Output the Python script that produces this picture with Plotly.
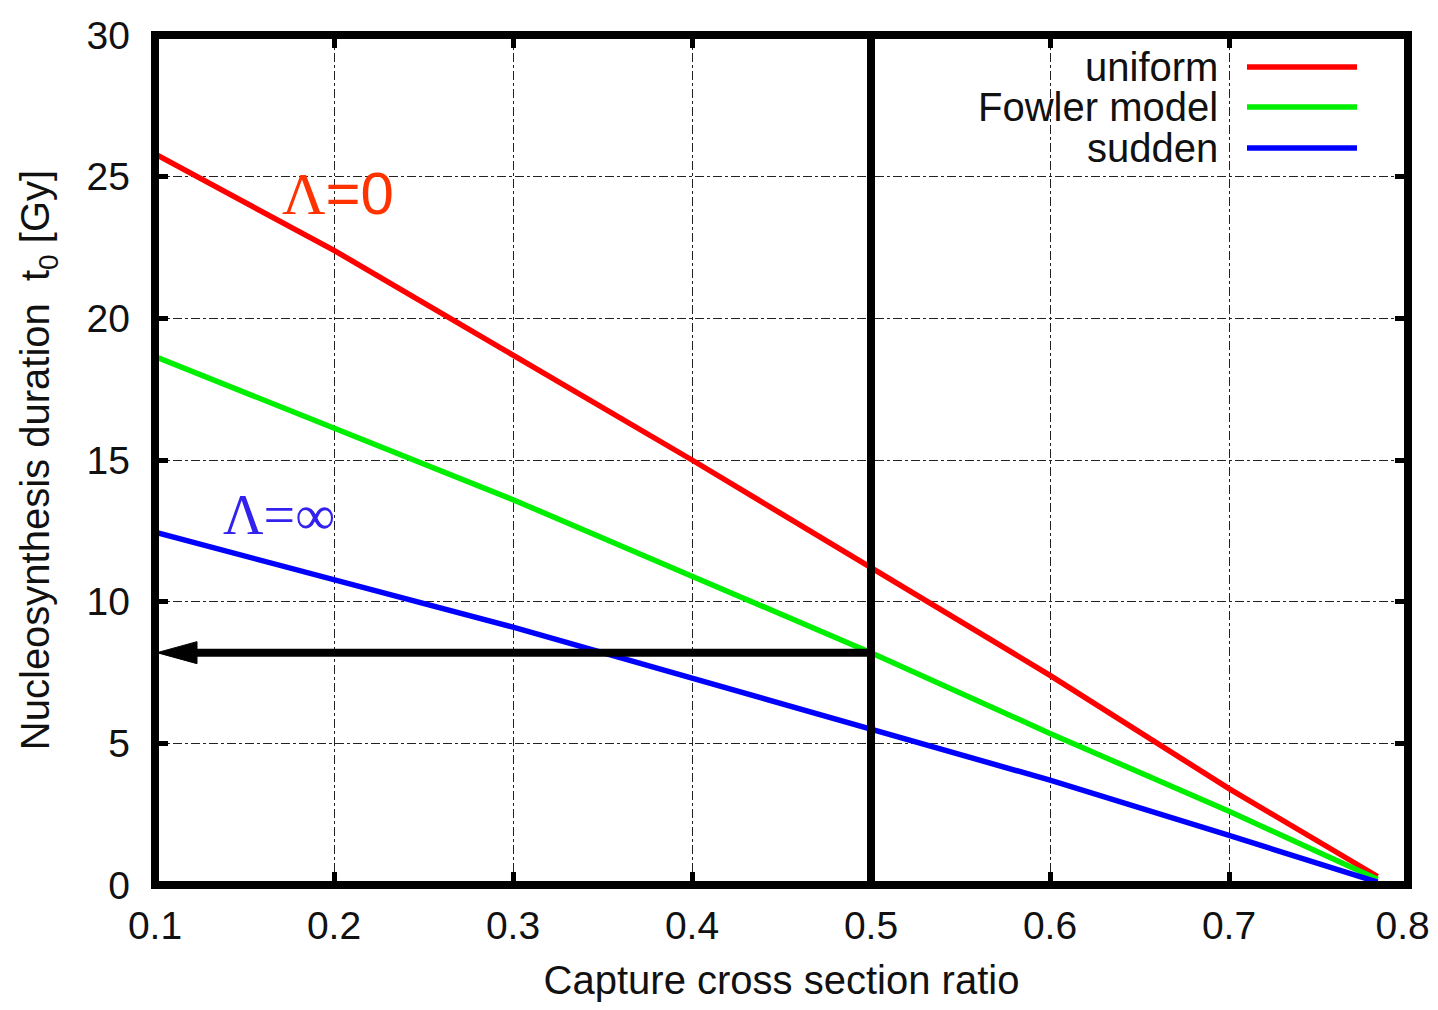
import plotly.graph_objects as go

# ---- data ----
ratio = [0.1, 0.2, 0.3, 0.4, 0.5, 0.6, 0.7, 0.783]
t_uniform = [25.8, 22.4, 18.7, 15.0, 11.2, 7.4, 3.4, 0.3]
t_fowler = [18.65, 16.1, 13.6, 10.9, 8.2, 5.35, 2.6, 0.2]
t_sudden = [12.45, 10.8, 9.1, 7.3, 5.5, 3.7, 1.75, 0.1]

series_names = ["uniform", "Fowler model", "sudden"]
series_colors = ["#ff0000", "#00ee00", "#0000ff"]

x_ticks = [0.1, 0.2, 0.3, 0.4, 0.5, 0.6, 0.7, 0.8]
x_tick_labels = ["0.1", "0.2", "0.3", "0.4", "0.5", "0.6", "0.7", "0.8"]
y_ticks = [0, 5, 10, 15, 20, 25, 30]

marker_ratio = 0.5
marker_t0 = 8.2

X_MIN, X_MAX = 0.1, 0.8
Y_MIN, Y_MAX = 0, 30

# page has an 8px body margin: compensate
OFF = 8
W, H = 1438 - OFF, 1010 - 2 * OFF
L, T = 155 - OFF, 35 - OFF
R = W - (1408 - OFF)
B = H - (885 - OFF)
PW, PH = W - L - R, H - T - B

def px2paper_x(px):  # px in page coordinates
    return (px - OFF - L) / PW

def px2paper_y(py):
    return (H - B - (py - OFF)) / PH

# pixel -> data scale helpers (for arrow head size)
dx_per_px = (X_MAX - X_MIN) / PW
dy_per_px = (Y_MAX - Y_MIN) / PH

fig = go.Figure()
for name, ys, col in zip(series_names, [t_uniform, t_fowler, t_sudden], series_colors):
    fig.add_trace(go.Scatter(x=ratio, y=ys, mode="lines", name=name,
                             line=dict(color=col, width=5.5), showlegend=False))

# vertical marker line at ratio 0.5
fig.add_shape(type="line", xref="x", yref="y", x0=marker_ratio, x1=marker_ratio,
              y0=Y_MIN, y1=Y_MAX, line=dict(color="black", width=8))

# arrow shaft and head from (0.5, t0) to the y axis
head_len = 42 * dx_per_px
head_half = 11 * dy_per_px
fig.add_trace(go.Scatter(x=[marker_ratio, X_MIN + head_len * 0.8], y=[marker_t0, marker_t0],
                         mode="lines", line=dict(color="black", width=8),
                         showlegend=False, hoverinfo="skip"))
fig.add_trace(go.Scatter(x=[X_MIN + 2 * dx_per_px, X_MIN + head_len, X_MIN + head_len, X_MIN + 2 * dx_per_px],
                         y=[marker_t0, marker_t0 + head_half, marker_t0 - head_half, marker_t0],
                         mode="lines", fill="toself", fillcolor="black",
                         line=dict(color="black", width=1),
                         showlegend=False, hoverinfo="skip"))

# frame centred on the plot-area edges
fig.add_shape(type="rect", xref="paper", yref="paper", x0=0, x1=1, y0=0, y1=1,
              line=dict(color="black", width=8), layer="above")

# Lambda labels
fig.add_annotation(x=0.202, y=24.4, xref="x", yref="y", showarrow=False,
                   text="<span style='font-family:Liberation Serif'>Λ</span>=0",
                   font=dict(family="Liberation Sans", size=60, color="#ff3300"))
fig.add_annotation(x=0.169, y=13.05, xref="x", yref="y", showarrow=False,
                   text="Λ=∞",
                   font=dict(family="Liberation Serif", size=56, color="#3322ee"))

# manual legend (text right, line after)
leg_y = [67, 107, 148]
for name, col, py in zip(series_names, series_colors, leg_y):
    fig.add_annotation(x=px2paper_x(1220), y=px2paper_y(py), xref="paper", yref="paper",
                       xanchor="right", yanchor="middle", showarrow=False, text=name,
                       font=dict(family="Liberation Sans", size=40, color="#111111"))
    fig.add_shape(type="line", xref="paper", yref="paper",
                  x0=px2paper_x(1247), x1=px2paper_x(1357),
                  y0=px2paper_y(py), y1=px2paper_y(py),
                  line=dict(color=col, width=5.5))

axis_common = dict(showline=False, mirror="ticks",
                   ticks="inside", ticklen=13, tickwidth=5, tickcolor="black",
                   showgrid=True, gridcolor="#222222", gridwidth=1.3, griddash="dashdot",
                   zeroline=False, ticklabeloverflow="allow",
                   tickfont=dict(family="Liberation Sans", size=39, color="#111111"))

# last label padded so its glyphs stay inside the page edge
tick_text = x_tick_labels[:-1] + [x_tick_labels[-1] + "\u00a0"]

fig.update_xaxes(range=[X_MIN, X_MAX], tickvals=x_ticks,
                 ticktext=tick_text, ticklabelstandoff=14,
                 title=dict(text="Capture cross section ratio", standoff=35,
                            font=dict(family="Liberation Sans", size=40, color="#111111")),
                 **axis_common)
fig.update_yaxes(range=[Y_MIN, Y_MAX], tickvals=y_ticks, ticklabelstandoff=24,
                 title=dict(text="Nucleosynthesis duration  t<sub>0</sub> [Gy]", standoff=24,
                            font=dict(family="Liberation Sans", size=40, color="#111111")),
                 **axis_common)

fig.update_layout(width=W, height=H, margin=dict(l=L, r=R, t=T, b=B, autoexpand=False),
                  paper_bgcolor="white", plot_bgcolor="white", showlegend=False)

fig.write_html("out.html")
